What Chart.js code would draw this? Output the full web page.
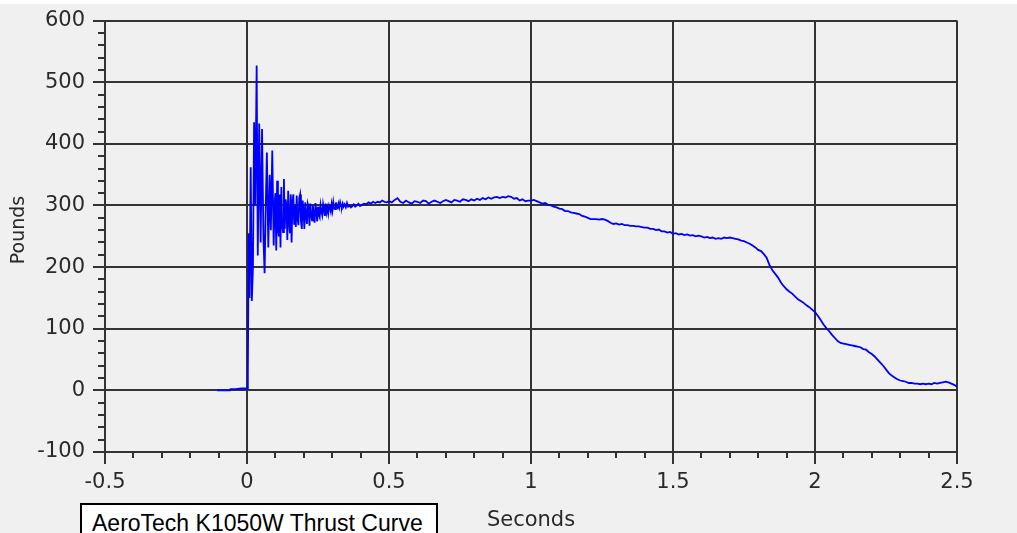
<!DOCTYPE html>
<html><head><meta charset="utf-8">
<script src="https://cdn.jsdelivr.net/npm/chart.js@4.4.1/dist/chart.umd.min.js"></script>
<style>
html,body{margin:0;padding:0;background:#f0f0f0;}
#wrap{position:relative;width:1017px;height:533px;overflow:hidden;background:#f0f0f0;}
#topstrip{position:absolute;left:0;top:0;width:1017px;height:4px;background:#fff;}
canvas{position:absolute;left:0;top:0;}
#legendBox{position:absolute;left:80px;top:503px;width:358px;height:50px;box-sizing:border-box;border:2px solid #000;background:#fff;font-family:"Liberation Sans",Arial,sans-serif;font-size:23px;color:#000;}
#legendBox span{position:absolute;left:10px;top:5px;white-space:nowrap;line-height:normal;}
</style></head>
<body>
<div id="wrap">
<div id="topstrip"></div>
<canvas id="c" width="1017" height="533"></canvas>
<div id="legendBox"><span id="legendText"></span></div>
</div>
<script>
const times = [
-0.105,-0.09,-0.075,-0.06,-0.058,-0.04,-0.02,0.000,
0.003,0.006,0.009,0.013,0.017,0.021,0.025,0.029,0.034,0.038,0.043,0.048,
0.053,0.058,0.062,0.066,0.070,0.075,0.080,0.084,0.089,0.094,0.097,
0.100,0.103,0.106,0.109,0.112,0.115,0.118,0.121,0.124,0.127,
0.130,0.133,0.136,0.139,0.142,0.145,0.148,0.151,0.154,0.157,
0.160,0.163,0.166,0.169,0.172,0.175,0.178,0.181,0.184,0.187,
0.190,0.193,0.196,0.199,0.202,0.205,0.208,0.211,0.214,0.217,
0.220,0.223,0.226,0.229,0.232,0.235,0.238,0.241,0.244,0.247,
0.250,0.253,0.256,0.259,0.262,0.265,0.268,0.271,0.274,0.277,
0.280,0.283,0.286,0.289,0.292,0.295,0.298,0.301,0.304,0.307,
0.310,0.313,0.316,0.319,0.322,0.325,0.328,0.331,0.334,0.337,
0.340,0.344,0.348,0.352,0.356,0.361,
0.366,0.371,0.376,0.381,0.386,0.392,0.398,0.405,0.412,0.420,
0.428,0.436,0.444,0.452,0.460,0.468,0.476,0.484,0.492,0.500,
0.51,0.52,0.53,0.54,0.55,0.56,0.57,0.58,0.59,0.60,
0.61,0.62,0.63,0.64,0.65,0.66,0.67,0.68,0.69,0.70,
0.71,0.72,0.73,0.74,0.75,0.76,0.77,0.78,0.79,0.80,
0.81,0.82,0.83,0.84,0.85,0.86,0.87,0.88,0.89,0.90,
0.91,0.92,0.93,0.94,0.95,0.96,0.97,0.98,0.99,1.00,
1.01,1.02,1.03,1.04,1.05,1.06,1.07,1.08,1.09,1.10,
1.11,1.12,1.13,1.14,1.15,1.16,1.17,1.18,1.19,1.20,
1.21,1.22,1.23,1.24,1.25,1.26,1.27,1.28,1.29,1.30,
1.31,1.32,1.33,1.34,1.35,1.36,1.37,1.38,1.39,1.40,
1.41,1.42,1.43,1.44,1.45,1.46,1.47,1.48,1.49,1.50,
1.51,1.52,1.53,1.54,1.55,1.56,1.57,1.58,1.59,1.60,
1.61,1.62,1.63,1.64,1.65,1.66,1.67,1.68,1.69,1.70,
1.71,1.72,1.73,1.74,1.75,1.76,1.77,1.78,1.79,1.80,
1.81,1.82,1.83,1.84,1.85,1.86,1.87,1.88,1.89,1.90,
1.91,1.92,1.93,1.94,1.95,1.96,1.97,1.98,1.99,2.00,
2.01,2.02,2.03,2.04,2.05,2.06,2.07,2.08,2.09,2.10,
2.11,2.12,2.13,2.14,2.15,2.16,2.17,2.18,2.19,2.20,
2.21,2.22,2.23,2.24,2.25,2.26,2.27,2.28,2.29,2.30,
2.31,2.32,2.33,2.34,2.35,2.36,2.37,2.38,2.39,2.40,
2.41,2.42,2.43,2.44,2.45,2.46,2.47,2.48,2.49,2.50
];
const thrust = [
0,0,0,0,2,2,3,3,
25,255,150,362,145,200,435,300,527,219,433,240,
424,245,190,300,386,232,350,260,389,235,300,
320,227,340,262,250,318,232,330,270,257,
343,262,310,300,244,324,275,255,318,240,
305,318,270,300,265,316,280,268,312,318,
275,262,308,290,262,305,285,270,302,296,
267,303,288,276,300,284,272,304,292,274,
298,285,281,300,290,284,302,294,283,303,
289,296,287,300,296,290,302,292,305,295,
294,305,298,296,303,297,305,299,297,303,
298,302,297,304,298,300,
297,299,302,298,300,303,299,301,303,302,
305,303,306,304,306,305,308,306,305,307,
305,309,312,306,304,308,305,303,307,306,
304,308,307,303,306,308,306,304,307,309,
307,305,309,308,306,310,309,307,310,308,
311,309,312,310,313,311,313,314,312,314,
313,315,314,311,312,308,310,307,308,308,
309,307,305,303,304,301,300,298,297,295,
294,291,291,289,288,287,286,283,282,280,
278,278,278,277,278,277,275,272,270,271,
269,270,268,268,267,267,266,266,265,264,
264,262,262,260,261,258,258,256,257,254,
255,253,254,252,253,251,252,250,251,250,
248,249,247,248,246,247,246,248,247,248,
247,246,245,243,242,240,238,235,232,228,
226,221,215,203,195,189,183,175,169,164,
160,157,152,148,145,142,138,135,131,127,
121,114,107,101,96,90,85,80,77,76,
75,74,73,72,71,70,67,66,62,59,
55,50,45,40,34,28,24,21,18,16,
15,14,12,12,11,11,10,11,10,11,
10,12,11,12,13,14,13,11,9,6
];
const xTickValues = [-0.5,0,0.5,1,1.5,2,2.5];
const xTickLabels = ['-0.5','0','0.5','1','1.5','2','2.5'];
const yTickValues = [-100,0,100,200,300,400,500,600];
const yTickLabels = ['-100','0','100','200','300','400','500','600'];
const xMinor = [-0.4,-0.3,-0.2,-0.1,0.1,0.2,0.3,0.4,0.6,0.7,0.8,0.9,1.1,1.2,1.3,1.4,1.6,1.7,1.8,1.9,2.1,2.2,2.3,2.4];
const yMinor = [-80,-60,-40,-20,20,40,60,80,120,140,160,180,220,240,260,280,320,340,360,380,420,440,460,480,520,540,560,580];
const seriesName = 'AeroTech K1050W Thrust Curve';
const xTitle = 'Seconds';
const yTitle = 'Pounds';

document.getElementById('legendText').textContent = seriesName;

const gridColor = '#333333';
const textColor = '#2a2a2a';
const n = Math.min(times.length, thrust.length);
const points = times.slice(0, n).map((t, i) => ({x: t, y: thrust[i]}));

const extras = {
  id: 'extras',
  afterDraw(chart) {
    const ctx = chart.ctx, xs = chart.scales.x, ys = chart.scales.y, area = chart.chartArea;
    ctx.save();
    ctx.strokeStyle = gridColor;
    ctx.lineWidth = 2;
    ctx.beginPath();
    yMinor.forEach(v => { const p = Math.round(ys.getPixelForValue(v)); ctx.moveTo(area.left - 7, p); ctx.lineTo(area.left, p); });
    xMinor.forEach(v => { const p = Math.round(xs.getPixelForValue(v)); ctx.moveTo(p, area.bottom); ctx.lineTo(p, area.bottom + 6); });
    ctx.stroke();
    ctx.translate(19, 230);
    ctx.rotate(-Math.PI / 2);
    ctx.fillStyle = textColor;
    ctx.font = '19px "DejaVu Sans"';
    ctx.textAlign = 'center';
    ctx.textBaseline = 'middle';
    ctx.fillText(yTitle, 0, 0);
    ctx.restore();
  }
};

new Chart(document.getElementById('c'), {
  type: 'line',
  data: { datasets: [{ label: seriesName, data: points, borderColor: '#0000ff', borderWidth: 1.8, pointRadius: 0, tension: 0, fill: false }] },
  options: {
    responsive: false,
    animation: false,
    layout: { padding: { left: 0, top: 20, right: 60, bottom: 0 } },
    plugins: { legend: { display: false }, tooltip: { enabled: false } },
    scales: {
      x: {
        type: 'linear', min: -0.5, max: 2.5,
        afterBuildTicks(s) { s.ticks = xTickValues.map(v => ({ value: v })); },
        afterFit(s) { s.height = 81; },
        ticks: { callback: (v, i) => xTickLabels[i], color: textColor, font: { family: 'DejaVu Sans', size: 21 }, padding: 6, maxRotation: 0, autoSkip: false },
        grid: { color: gridColor, lineWidth: 2, tickLength: 12, tickColor: gridColor, drawTicks: true },
        border: { color: gridColor, width: 2 },
        title: { display: true, text: xTitle, color: textColor, font: { family: 'DejaVu Sans', size: 21 }, padding: { top: 0, bottom: 0 } }
      },
      y: {
        type: 'linear', min: -100, max: 600,
        afterBuildTicks(s) { s.ticks = yTickValues.map(v => ({ value: v })); },
        afterFit(s) { s.width = 105; },
        ticks: { callback: (v, i) => yTickLabels[i], color: textColor, font: { family: 'DejaVu Sans', size: 21 }, padding: 8, autoSkip: false },
        grid: { color: gridColor, lineWidth: 2, tickLength: 12, tickColor: gridColor, drawTicks: true },
        border: { color: gridColor, width: 2 },
        title: { display: false }
      }
    }
  },
  plugins: [extras]
});
</script>
</body></html>
